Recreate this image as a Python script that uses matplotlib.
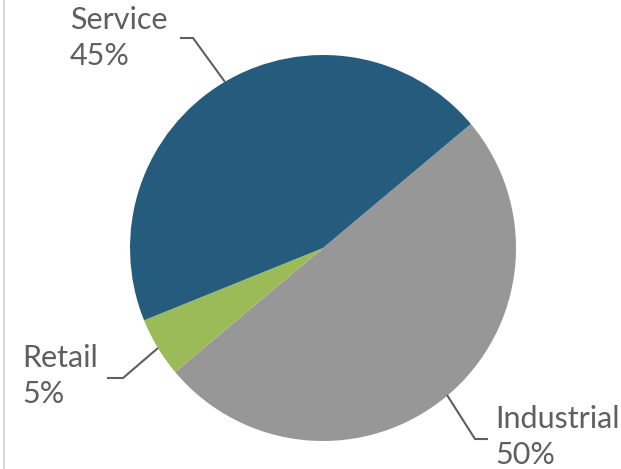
import matplotlib
matplotlib.use("Agg")
import matplotlib.pyplot as plt
from matplotlib.lines import Line2D

categories = ["Industrial", "Retail", "Service"]
shares = [50, 5, 45]
colors = ["#979797", "#9BBB59", "#255C7E"]

W, H = 621, 469
CX, CY, R = 323, 248, 193

fig = plt.figure(figsize=(W / 100, H / 100), dpi=100)
ax = fig.add_axes([0, 0, 1, 1])

ax.pie(shares, colors=colors, startangle=40, counterclock=False,
       radius=1, center=(0, 0), wedgeprops=dict(linewidth=0))

ax.set_xlim(-CX / R, (W - CX) / R)
ax.set_ylim(-(H - CY) / R, CY / R)
ax.set_aspect("equal")
ax.axis("off")


def px(x, y):
    return (x - CX) / R, (CY - y) / R


text_color = "#5f5f5f"
label_font = dict(family=["Lato", "DejaVu Sans"], fontsize=22, color=text_color)

# label anchors (baseline of the percentage line) and leader paths
label_pos = {"Service": (70, 65), "Retail": (22, 403), "Industrial": (495, 464)}
leaders = {
    "Service": [(180, 38), (193, 38), (225, 82)],
    "Retail": [(107, 378), (123, 378), (158, 348)],
    "Industrial": [(447, 395), (475, 439), (488, 439)],
}

for cat, val in zip(categories, shares):
    lx, ly = px(*label_pos[cat])
    ax.text(lx, ly, f"{cat}\n{val}%", ha="left", va="baseline",
            linespacing=1.35, **label_font)
    pts = [px(*p) for p in leaders[cat]]
    ax.plot([p[0] for p in pts], [p[1] for p in pts], color=text_color,
            lw=1.5, solid_capstyle="butt", solid_joinstyle="miter")

# chart frame edge on the left
fig.add_artist(Line2D([3.5 / W, 3.5 / W], [0, 1], color="#d9d9d9", lw=1.5))

fig.savefig("out.png", dpi=100)
